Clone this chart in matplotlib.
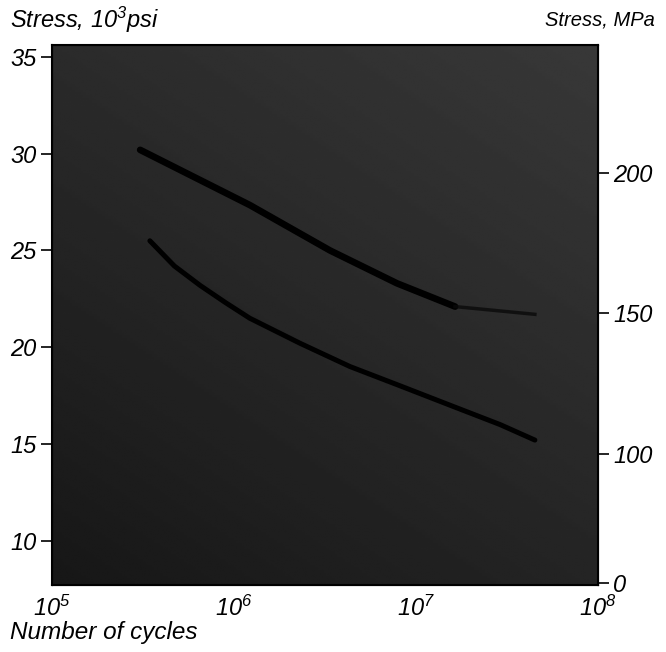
import numpy as np
import matplotlib
matplotlib.use("Agg")
import matplotlib.pyplot as plt

# ---- data ----
upper_cycles = [3.05e5, 1.22e6, 3.37e6, 7.87e6, 1.64e7]
upper_ksi = [30.2, 27.35, 25.0, 23.3, 22.1]
upper_ext_cycles = [1.64e7, 4.5e7]
upper_ext_ksi = [22.1, 21.7]

lower_cycles = [3.45e5, 4.7e5, 6.5e5, 9.0e5, 1.22e6, 2.31e6, 4.34e6, 8.2e6, 1.54e7, 2.9e7, 4.5e7]
lower_ksi = [25.5, 24.2, 23.2, 22.3, 21.5, 20.2, 19.0, 18.0, 17.0, 16.0, 15.2]

left_ticks = [10, 15, 20, 25, 30, 35]
right_ticks = [100, 150, 200]
x_ticks = [1e5, 1e6, 1e7, 1e8]
x_labels = [r'$10^5$', r'$10^6$', r'$10^7$', r'$10^8$']

KSI_TO_MPA = 6.89476

plt.rcParams['font.family'] = ['Liberation Sans', 'DejaVu Sans']
plt.rcParams['font.style'] = 'italic'
plt.rcParams['mathtext.fontset'] = 'custom'
plt.rcParams['mathtext.rm'] = 'Liberation Sans:italic'
plt.rcParams['mathtext.it'] = 'Liberation Sans:italic'

fig = plt.figure(figsize=(6.66, 6.52), dpi=100)
ax = fig.add_axes([52/666, 1-585/652, (598-52)/666, (585-45)/652])

ymin, ymax = 7.71, 35.62
ax.set_xscale('log')
ax.set_xlim(1e5, 1e8)
ax.set_ylim(ymin, ymax)

# dark scanned-looking background (smooth gradient)
gx = np.linspace(0, 1, 200)
gy = np.linspace(0, 1, 200)
GX, GY = np.meshgrid(gx, gy)
grad = 0.09 + 0.13 * (0.6 * GY + 0.4 * GX)
ax.imshow(grad, cmap='gray', vmin=0, vmax=1, origin='lower',
          extent=[0, 1, 0, 1], transform=ax.transAxes, aspect='auto',
          zorder=0, interpolation='bilinear')

ax.plot(upper_cycles, upper_ksi, color='black', lw=4.8,
        solid_capstyle='round', zorder=3)
ax.plot(upper_ext_cycles, upper_ext_ksi, color='#0a0a0a', lw=2.5, alpha=0.8,
        zorder=3)
ax.plot(lower_cycles, lower_ksi, color='black', lw=3.6,
        solid_capstyle='round', solid_joinstyle='round', zorder=3)

ax.set_xticks(x_ticks)
ax.set_xticklabels(x_labels)
ax.xaxis.set_minor_locator(matplotlib.ticker.NullLocator())
ax.tick_params(axis='x', length=0, pad=8, labelsize=17)
ax.set_yticks(left_ticks)
ax.set_yticklabels([str(t) for t in left_ticks])
ax.tick_params(axis='y', direction='out', length=8, width=1.2, pad=3,
               labelsize=17)
for s in ax.spines.values():
    s.set_linewidth(1.5)

ax2 = ax.twinx()
ax2.set_ylim(ymin * KSI_TO_MPA, ymax * KSI_TO_MPA)
bottom_mpa = ymin * KSI_TO_MPA + 0.8
ax2.set_yticks([bottom_mpa] + right_ticks)
ax2.set_yticklabels(['0'] + [str(t) for t in right_ticks])
ax2.tick_params(axis='y', direction='out', length=8, width=1.2, pad=3,
                labelsize=17)

fig.text(10/666, 1-20/652, r'Stress, $10^3$psi', fontsize=17,
         ha='left', va='center')
fig.text(655/666, 1-20/652, 'Stress, MPa', fontsize=14.5,
         ha='right', va='center')
fig.text(10/666, 1-632/652, 'Number of cycles', fontsize=17.5,
         ha='left', va='center')

fig.savefig('out.png', dpi=100)
